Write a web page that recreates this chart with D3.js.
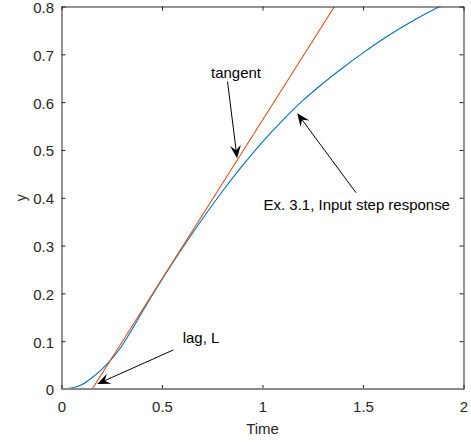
<!DOCTYPE html>
<html>
<head>
<meta charset="utf-8">
<script src="https://cdn.jsdelivr.net/npm/d3@7"></script>
<style>
  html, body { margin: 0; padding: 0; background: #fff; }
  svg { display: block; font-family: "Liberation Sans", Arial, Helvetica, sans-serif; }
</style>
</head>
<body>
<svg id="chart" width="471" height="443"></svg>
<script>
// ---- data ----
const timeValues = [0, 0.05, 0.10, 0.15, 0.20, 0.25, 0.30, 0.35, 0.40, 0.45, 0.50, 0.55, 0.60, 0.70, 0.80, 0.90, 1.00, 1.10, 1.20, 1.30, 1.40, 1.50, 1.60, 1.70, 1.80, 1.90, 2.00];
const stepResponse = [0, 0.002, 0.009, 0.023, 0.041, 0.063, 0.090, 0.124, 0.160, 0.195, 0.229, 0.262, 0.294, 0.355, 0.413, 0.467, 0.517, 0.562, 0.603, 0.639, 0.672, 0.703, 0.732, 0.758, 0.782, 0.804, 0.824];
const tangentTime = [0.153, 1.358];
const tangentValue = [0, 0.8];
const zeroLineTime = [0, 2];
const zeroLineValue = [0, 0];
const xTicks = [0, 0.5, 1, 1.5, 2];
const yTicks = [0, 0.1, 0.2, 0.3, 0.4, 0.5, 0.6, 0.7, 0.8];
const xLabel = "Time";
const yLabel = "y";
const annotations = [
  { text: "tangent", tx: 0.868, ty: 0.6515, anchor: "middle", fromX: 0.826, fromY: 0.643, toX: 0.8735, toY: 0.4825 },
  { text: "Ex. 3.1, Input step response", tx: 1.469, ty: 0.3744, anchor: "middle", fromX: 1.465, fromY: 0.4106, toX: 1.173, toY: 0.5767 },
  { text: "lag, L", tx: 0.603, ty: 0.0962, anchor: "start", fromX: 0.556, fromY: 0.0816, toX: 0.178, toY: 0.0105 }
];

// ---- layout ----
const svg = d3.select("#chart");
const pLeft = 61.5, pRight = 463.5, pTop = 6.5, pBottom = 389;
const x = d3.scaleLinear().domain([0, 2]).range([pLeft, pRight]);
const y = d3.scaleLinear().domain([0, 0.8]).range([pBottom, pTop]);
const axisColor = "#262626";
const fontSize = 14, stretch = 1.07;

svg.append("defs").append("clipPath").attr("id", "plotclip")
  .append("rect").attr("x", pLeft).attr("y", pTop).attr("width", pRight - pLeft).attr("height", pBottom - pTop);

const plot = svg.append("g").attr("clip-path", "url(#plotclip)");

const lineGen = d3.line().x(d => x(d[0])).y(d => y(d[1]));
const zeroData = zeroLineTime.map((t, i) => [t, zeroLineValue[i]]);

// step response
const respData = timeValues.map((t, i) => [t, stepResponse[i]]);
plot.append("path").datum(respData)
  .attr("d", d3.line().x(d => x(d[0])).y(d => y(d[1])).curve(d3.curveMonotoneX))
  .attr("fill", "none").attr("stroke", "#0072BD").attr("stroke-width", 1.1);

// tangent
const tanData = tangentTime.map((t, i) => [t, tangentValue[i]]);
plot.append("path").datum(tanData).attr("d", lineGen)
  .attr("fill", "none").attr("stroke", "#D95319").attr("stroke-width", 1.1);

// axes (box with ticks on all sides)
const gx = svg.append("g").attr("transform", `translate(0,${pBottom})`)
  .call(d3.axisBottom(x).tickValues(xTicks).tickSize(-4).tickSizeOuter(0).tickPadding(13).tickFormat(d3.format("")));
const gxt = svg.append("g").attr("transform", `translate(0,${pTop})`)
  .call(d3.axisTop(x).tickValues(xTicks).tickSize(-4).tickSizeOuter(0).tickFormat(""));
const gy = svg.append("g").attr("transform", `translate(${pLeft},0)`)
  .call(d3.axisLeft(y).tickValues(yTicks).tickSize(-4).tickSizeOuter(0).tickPadding(7).tickFormat(d3.format("")));
const gyr = svg.append("g").attr("transform", `translate(${pRight},0)`)
  .call(d3.axisRight(y).tickValues(yTicks).tickSize(-4).tickSizeOuter(0).tickFormat(""));

[gx, gxt, gy, gyr].forEach(g => {
  g.select(".domain").attr("stroke", axisColor).attr("stroke-width", 1);
  g.selectAll(".tick line").attr("stroke", axisColor).attr("stroke-width", 1);
  g.selectAll(".tick text").attr("fill", axisColor).attr("font-size", fontSize)
    .attr("font-family", "'Liberation Sans', Arial, sans-serif")
    .attr("transform", `scale(${stretch},1)`);
});
gy.selectAll(".tick text").attr("dy", "0.42em");

// gray zero line over the bottom axis
svg.append("path").datum(zeroData).attr("d", lineGen)
  .attr("fill", "none").attr("stroke", "#8a8a8a").attr("stroke-width", 2);

// helper: stretched text anchored at (px, py)
function sText(px, py, str, anchor, color) {
  return svg.append("g").attr("transform", `translate(${px},${py}) scale(${stretch},1)`)
    .append("text").attr("text-anchor", anchor).attr("font-size", fontSize).attr("fill", color).text(str);
}

// axis labels
sText(x(1), 434, xLabel, "middle", axisColor);
svg.append("text").attr("transform", `translate(26,${y(0.4)}) rotate(-90)`)
  .attr("text-anchor", "middle").attr("font-size", fontSize).attr("fill", axisColor).text(yLabel);

// annotations
function arrowHead(x1, y1, x2, y2) {
  const dx = x2 - x1, dy = y2 - y1, len = Math.hypot(dx, dy);
  const ux = dx / len, uy = dy / len, nx = -uy, ny = ux;
  const L = 13, W = 11, N = 0.62;
  const bx = x2 - L * ux, by = y2 - L * uy;
  return [
    [x2, y2],
    [bx + nx * W / 2, by + ny * W / 2],
    [x2 - N * L * ux, y2 - N * L * uy],
    [bx - nx * W / 2, by - ny * W / 2]
  ];
}
annotations.forEach(a => {
  const x1 = x(a.fromX), y1 = y(a.fromY), x2 = x(a.toX), y2 = y(a.toY);
  const head = arrowHead(x1, y1, x2, y2);
  svg.append("line").attr("x1", x1).attr("y1", y1).attr("x2", head[2][0]).attr("y2", head[2][1])
    .attr("stroke", "#000").attr("stroke-width", 1);
  svg.append("polygon").attr("points", head.map(p => p.join(",")).join(" ")).attr("fill", "#000");
  sText(x(a.tx), y(a.ty), a.text, a.anchor, "#000");
});
</script>
</body>
</html>
